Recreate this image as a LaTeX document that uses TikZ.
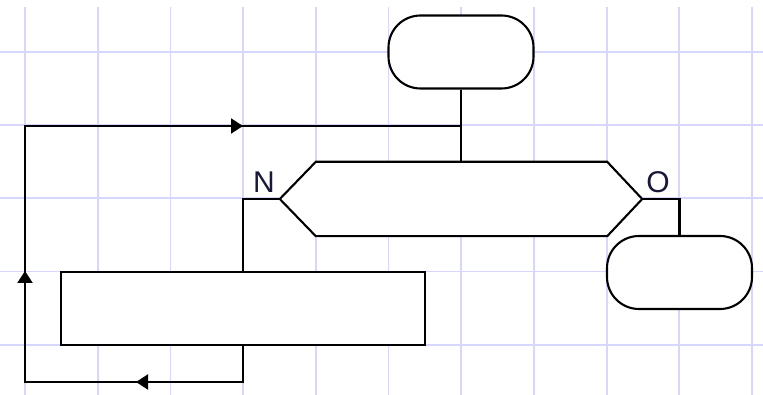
\documentclass[tikz,border=0pt]{standalone}
\usepackage{fontspec}
\setmainfont{Liberation Sans}
\usetikzlibrary{arrows.meta,calc}
\definecolor{gridc}{RGB}{214,214,255}
\definecolor{labelc}{RGB}{24,24,56}
\tikzset{
  gridline/.style={draw=gridc, line width=1.8pt},
  shapeline/.style={draw=black, line width=2.1pt, fill=white},
  terminal/.style={shapeline, rectangle, rounded corners=32pt, minimum width=145pt, minimum height=73pt, inner sep=0pt},
  processbox/.style={shapeline, rectangle, minimum width=364pt, minimum height=73pt, inner sep=0pt},
  hexframe/.style={rectangle, minimum width=362pt, minimum height=74pt, inner sep=0pt},
  conn/.style={draw=black, line width=2.1pt},
  arr/.style={conn, -{Triangle[length=12pt,width=15pt]}},
  lbl/.style={text=labelc, font=\fontsize{30}{30}\selectfont, inner sep=0pt, anchor=base}
}
\begin{document}
\begin{tikzpicture}[x=1pt,y=-1pt]
\useasboundingbox (0,0) rectangle (763,395);
% grid
\foreach \k in {0,...,10} {
  \draw[gridline] ({25+72.7*\k},7) -- ({25+72.7*\k},395);
}
\foreach \k in {0,...,4} {
  \draw[gridline] (0,{52+73.2*\k}) -- (763,{52+73.2*\k});
}
% nodes
\node[terminal] (start) at (461,52) {};
\node[hexframe] (dec) at (461,199) {};
\draw[shapeline] (dec.west) -- ([xshift=36pt]dec.north west) -- ([xshift=-35pt]dec.north east)
  -- (dec.east) -- ([xshift=-35pt]dec.south east) -- ([xshift=36pt]dec.south west) -- cycle;
\node[processbox] (proc) at (243,308.5) {};
\node[terminal] (stop) at (679.5,272.5) {};
% labels
\node[lbl] (lN) at (264,193) {N};
\node[lbl] (lO) at (658,193) {O};
% connectors
\draw[conn] (start.south) -- (dec.north);
\draw[conn] (dec.west) -| (proc.north);
\draw[conn] (dec.east) -| (stop.north);
% loop
\coordinate (c1) at (243,382);
\coordinate (c2) at (25,382);
\coordinate (c3) at (25,126);
\coordinate (join) at (461,126);
\coordinate (t1) at (136,382);
\coordinate (t2) at (25,271);
\coordinate (t3) at (243,126);
\draw[conn] (proc.south) -- (c1) -- (t1);
\draw[arr] (c1) -- (t1);
\draw[conn] (t1) -- (c2) -- (t2);
\draw[arr] (c2) -- (t2);
\draw[conn] (t2) -- (c3) -- (t3);
\draw[arr] (c3) -- (t3);
\draw[conn] (t3) -- (join);
\end{tikzpicture}
\end{document}
